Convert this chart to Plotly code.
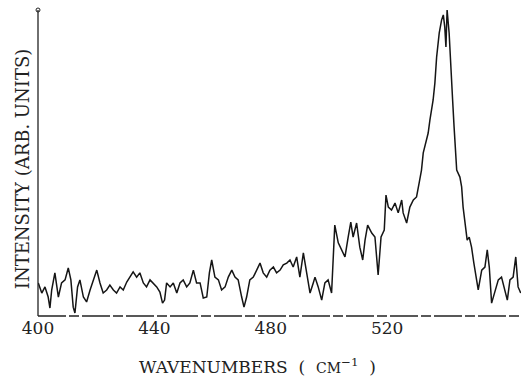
import plotly.graph_objects as go

wavenumber = [
    400.1, 401.3, 402.4, 403.5, 404.1, 404.7, 405.8, 407.0, 408.1, 409.3,
    410.4, 411.3, 412.1, 412.7, 413.6, 414.4, 415.6, 416.7, 417.9, 419.0,
    420.2, 421.3, 422.4, 423.6, 424.7, 425.9, 427.0, 428.2, 429.3, 430.5,
    431.6, 432.7, 433.9, 435.0, 436.2, 437.3, 438.5, 439.6, 440.8, 441.9,
    442.8, 443.5, 444.2, 445.4, 446.5, 447.7, 448.8, 449.9, 451.1, 452.2,
    453.4, 454.5, 455.7, 456.8, 458.0, 458.9, 459.7, 460.8, 462.0, 463.1,
    464.3, 465.4, 466.6, 467.7, 468.8, 470.0, 470.8, 471.7, 472.8, 474.0,
    475.1, 476.3, 477.4, 478.6, 479.7, 480.9, 482.0, 483.2, 484.3, 485.5,
    486.6, 487.7, 488.9, 490.0, 491.2, 492.3, 493.5, 494.6, 495.2, 496.3,
    497.5, 498.6, 499.7, 500.9, 501.5, 502.0, 503.2, 504.4, 505.5, 506.6,
    507.5, 508.3, 509.5, 510.6, 511.6, 512.4, 513.3, 514.7, 515.8, 516.9,
    517.9, 519.0, 519.6, 520.4, 521.5, 522.7, 523.8, 525.0, 525.5, 526.7,
    527.8, 529.0, 530.1, 531.0, 531.8, 532.4, 533.3, 534.1, 534.7, 535.8,
    536.4, 537.0, 537.9, 538.7, 539.3, 539.8, 540.2, 540.6, 541.3, 541.8,
    542.5, 543.0, 543.9, 545.0, 545.6, 546.1, 546.7, 547.5, 548.2, 549.0,
    549.8, 550.7, 551.3, 552.5, 553.6, 554.4, 555.1, 555.9, 557.0, 558.2,
    559.3, 560.5, 561.3, 562.2, 563.3, 564.2, 565.0, 565.9,
]

intensity = [
    10.8, 7.5, 9.5, 6.2, 2.6, 8.5, 14.1, 6.2, 10.8, 11.8,
    15.7, 11.8, 2.9, 1.0, 9.5, 11.8, 6.2, 4.6, 8.5, 11.8,
    15.0, 10.8, 7.5, 8.5, 10.1, 8.5, 7.5, 9.5, 8.5, 11.1,
    12.7, 14.4, 12.7, 14.1, 10.8, 9.5, 11.8, 10.8, 9.5, 7.8,
    4.2, 5.2, 10.8, 9.5, 10.8, 7.5, 10.8, 11.8, 9.5, 10.8,
    15.0, 10.8, 10.8, 5.9, 6.2, 14.1, 18.3, 12.7, 11.8, 8.5,
    9.5, 12.7, 15.0, 12.7, 11.8, 6.2, 2.9, 6.2, 11.8, 12.7,
    15.0, 17.3, 14.1, 12.7, 15.0, 16.0, 14.1, 15.0, 16.7, 17.3,
    18.3, 16.0, 19.3, 12.7, 20.6, 14.1, 7.5, 10.8, 12.7, 9.5,
    5.2, 10.8, 11.8, 7.5, 21.6, 29.7, 23.9, 21.6, 19.3, 25.8,
    30.7, 25.8, 30.4, 22.5, 18.3, 24.8, 29.7, 27.1, 25.8, 13.4,
    25.8, 28.1, 39.5, 35.6, 34.6, 36.9, 33.7, 37.9, 33.7, 30.4,
    35.6, 37.9, 38.9, 43.5, 47.7, 53.3, 56.5, 59.8, 64.1, 70.6,
    76.1, 84.6, 92.5, 96.7, 98.4, 94.4, 87.9, 100.0, 92.5, 81.4,
    70.6, 61.8, 47.7, 45.4, 42.2, 35.6, 31.4, 24.8, 25.8, 22.5,
    17.3, 11.8, 8.5, 15.0, 16.0, 21.6, 16.0, 4.2, 7.5, 11.8,
    12.7, 8.5, 5.2, 11.8, 12.7, 19.3, 9.5, 7.5,
]

x_tick_values = [400, 440, 480, 520]
x_tick_labels = ["400", "440", "480", "520"]
x_range = [400, 566]
y_range = [0, 100]

SERIF = "DejaVu Serif"

fig = go.Figure()

fig.add_trace(go.Scatter(
    x=wavenumber, y=intensity, mode="lines",
    line=dict(color="#151515", width=1.5),
    showlegend=False, hoverinfo="skip",
))

# small open circle at the top of the intensity axis
fig.add_trace(go.Scatter(
    x=[x_range[0]], y=[y_range[1]], mode="markers",
    marker=dict(symbol="circle-open", size=4, color="#222", line=dict(width=1)),
    showlegend=False, hoverinfo="skip", cliponaxis=False,
))

# axis lines (paper-referenced so they are not clipped at the plot edge)
fig.add_shape(type="line", xref="paper", yref="paper",
              x0=0, x1=0, y0=0, y1=1,
              line=dict(color="#222", width=1.3))
fig.add_shape(type="line", xref="paper", yref="paper",
              x0=0, x1=1, y0=0, y1=0,
              line=dict(color="#222", width=1.4, dash="28px,3px,10px,3px"))

fig.add_annotation(
    text="WAVENUMBERS  (  <span style='font-size:14px'>CM</span><sup>−1</sup>  )",
    xref="paper", yref="paper", x=0.455, y=-0.163,
    xanchor="center", yanchor="middle", showarrow=False,
    font=dict(family=SERIF, size=17, color="#222"),
)
fig.add_annotation(
    text="INTENSITY (ARB. UNITS)",
    xref="paper", yref="paper", x=-0.033, y=0.48,
    xanchor="center", yanchor="middle", showarrow=False, textangle=-90,
    font=dict(family=SERIF, size=18, color="#222"),
)

fig.update_xaxes(
    range=x_range, tickmode="array", tickvals=x_tick_values, ticktext=x_tick_labels,
    showgrid=False, zeroline=False, showline=False, ticks="",
    tickfont=dict(family=SERIF, size=17, color="#222"),
)
fig.update_yaxes(
    range=y_range, showgrid=False, zeroline=False, showline=False,
    showticklabels=False, ticks="",
)

fig.update_layout(
    width=521, height=385,
    margin=dict(l=38, r=0, t=10, b=69),
    plot_bgcolor="white", paper_bgcolor="white",
)

fig.write_html("out.html", config={"displayModeBar": False})
